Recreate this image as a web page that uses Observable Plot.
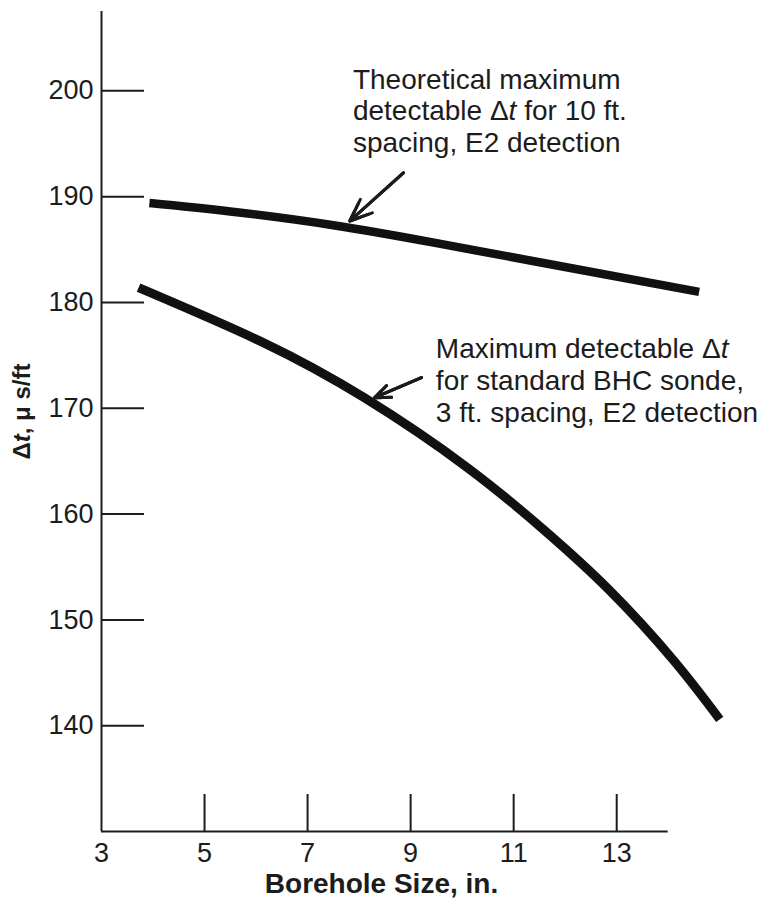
<!DOCTYPE html>
<html>
<head>
<meta charset="utf-8">
<script src="https://cdn.jsdelivr.net/npm/d3@7"></script>
<script src="https://cdn.jsdelivr.net/npm/@observablehq/plot@0.6"></script>
<style>
  body { margin: 0; background: #fff; }
  #chart svg { display: block; }
</style>
</head>
<body>
<div id="chart"></div>
<script>
// Theoretical maximum detectable Δt, 10 ft. spacing, E2 detection
const boreholeTheory = [3.93, 5.5, 7.5, 9.4, 11.5, 14.6];
const dtTheory       = [189.4, 188.6, 187.3, 185.7, 183.8, 181.0];

// Maximum detectable Δt, standard BHC sonde, 3 ft. spacing, E2 detection
const boreholeBHC = [3.72, 6.1, 8.1, 10.1, 11.6, 12.85, 14.1, 15.0];
const dtBHC       = [181.4, 176.3, 171.0, 164.4, 158.45, 152.85, 146.2, 140.6];

// Axis ticks
const xTickLabels = [3, 5, 7, 9, 11, 13];
const xTickMarks  = [5, 7, 9, 11, 13];
const yTicks      = [140, 150, 160, 170, 180, 190, 200];
const xAxisEnd    = 14;

// Callouts: text anchor (top-left) and arrow from text toward its curve
const noteText = [
  "Theoretical maximum\ndetectable Δt for 10 ft.\nspacing, E2 detection",
  "Maximum detectable Δt\nfor standard BHC sonde,\n3 ft. spacing, E2 detection"
];
const noteX = [7.88, 9.49];
const noteY = [202.36, 176.85];
const arrowX1 = [8.86, 9.21];
const arrowY1 = [192.25, 172.9];
const arrowX2 = [7.82, 8.30];
const arrowY2 = [187.7, 171.0];

const theory = boreholeTheory.map((x, i) => ({x, y: dtTheory[i]}));
const bhc = boreholeBHC.map((x, i) => ({x, y: dtBHC[i]}));
const notes = noteText.map((text, i) => ({text, x: noteX[i], y: noteY[i]}));
const arrows = arrowX1.map((x1, i) => ({x1, y1: arrowY1[i], x2: arrowX2[i], y2: arrowY2[i]}));

const ink = "#1c1c1c";
const fontSize = 27;

// arrow with a solid-looking head: nested chevrons fill the head
const arrowOpts = (headLength) => ({
  x1: "x1", y1: "y1", x2: "x2", y2: "y2",
  stroke: ink, strokeWidth: 3, headLength, headAngle: 44
});

const chart = Plot.plot({
  width: 778,
  height: 899,
  marginLeft: 101,
  marginRight: 33,
  marginTop: 11,
  marginBottom: 68,
  style: {
    fontFamily: "'Liberation Sans', Arial, Helvetica, sans-serif",
    fontSize: fontSize + "px",
    color: ink,
    background: "#fff"
  },
  x: {domain: [3, 15.5]},
  y: {domain: [130, 207.5]},
  marks: [
    // axis lines
    Plot.ruleX([3], {stroke: ink, strokeWidth: 2}),
    Plot.ruleY([130], {x1: 3, x2: xAxisEnd, stroke: ink, strokeWidth: 2}),
    // inward ticks
    Plot.axisY({ticks: yTicks, tickSize: 43, dx: 43, fill: "none", label: null, stroke: ink, strokeWidth: 2}),
    Plot.axisX({ticks: xTickMarks, tickSize: 37, dy: -37, fill: "none", label: null, stroke: ink, strokeWidth: 2}),
    // tick labels
    Plot.axisY({ticks: yTicks, tickSize: 0, tickPadding: 8, label: null, fontSize, fill: ink}),
    Plot.axisX({ticks: xTickLabels, tickSize: 0, tickPadding: 11, label: null, fontSize, fill: ink}),
    // axis titles
    Plot.text(["Δt, μ s/ft"], {
      frameAnchor: "left", textAnchor: "middle", rotate: -90, dx: -79, dy: -10,
      fontWeight: "bold", fontSize: 24, fill: ink
    }),
    Plot.text(["Borehole Size, in."], {
      frameAnchor: "bottom", lineAnchor: "top", dx: -42, dy: 42,
      fontWeight: "bold", fontSize: 28, fill: ink
    }),
    // curves
    Plot.line(theory, {x: "x", y: "y", curve: "natural", stroke: "#111", strokeWidth: 8.5, strokeLinecap: "butt"}),
    Plot.line(bhc, {x: "x", y: "y", curve: "natural", stroke: "#111", strokeWidth: 9, strokeLinecap: "butt"}),
    // callouts
    Plot.arrow(arrows, arrowOpts(15)),
    Plot.arrow(arrows, arrowOpts(10)),
    Plot.arrow(arrows, arrowOpts(5)),
    Plot.text(notes, {
      x: "x", y: "y", text: "text", textAnchor: "start", lineAnchor: "top",
      lineHeight: 1.14, fontSize: 28, fill: ink
    })
  ]
});

// set the "t" of Δt in italics
const ns = "http://www.w3.org/2000/svg";
chart.querySelectorAll("text, tspan").forEach((el) => {
  if (el.children.length === 0 && el.textContent.includes("Δt")) {
    const parts = el.textContent.split("Δt");
    el.textContent = "";
    parts.forEach((p, i) => {
      if (i > 0) {
        el.append("Δ");
        const t = document.createElementNS(ns, "tspan");
        t.setAttribute("font-style", "italic");
        t.textContent = "t";
        el.append(t);
      }
      if (p) el.append(p);
    });
  }
});

document.getElementById("chart").append(chart);
</script>
</body>
</html>
